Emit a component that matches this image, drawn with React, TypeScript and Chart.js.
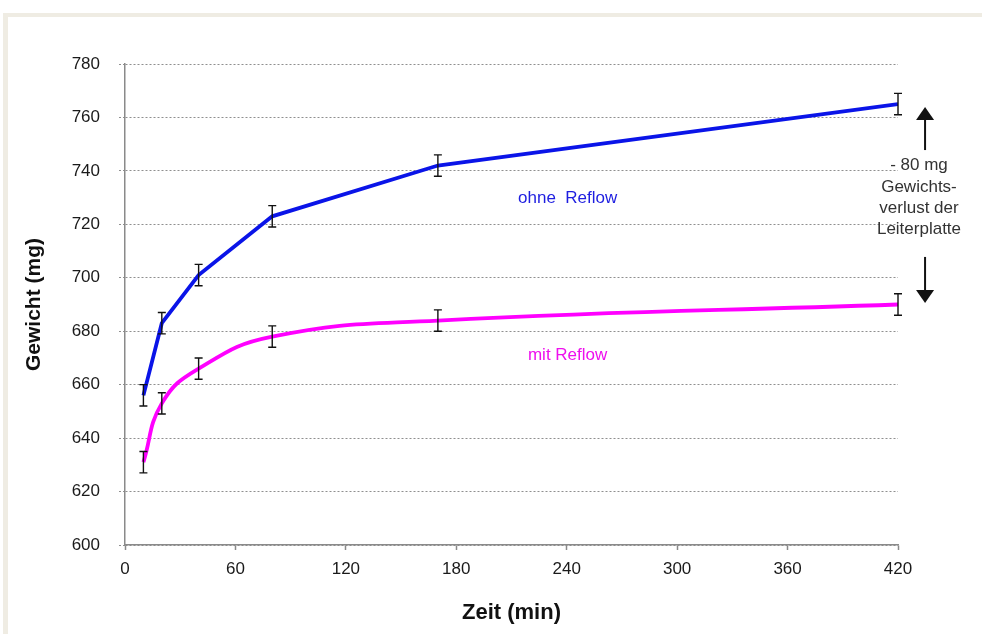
import React, { useEffect, useRef } from "react";
import { Chart, registerables } from "chart.js";

Chart.register(...registerables);

// ---- data ----
const times = [10, 20, 40, 80, 170, 420];
const ohneReflow = [656, 683, 701, 723, 742, 765];
const mitReflow = [631, 653, 666, 678, 684, 690];
const ohneErr = [4, 4, 4, 4, 4, 4];
const mitErr = [4, 4, 4, 4, 4, 4];
const xTickValues = [0, 60, 120, 180, 240, 300, 360, 420];
const yTickValues = [600, 620, 640, 660, 680, 700, 720, 740, 760, 780];
const noteLines = ["- 80 mg", "Gewichts-", "verlust der", "Leiterplatte"];
const seriesLabels = ["ohne  Reflow", "mit Reflow"];

const FONT = "'Liberation Sans', Arial, sans-serif";
const BLUE = "#0a14e8";
const MAGENTA = "#ff00ff";

const framePlugin = {
  id: "frame",
  beforeDraw(chart: any) {
    const { ctx, width, height } = chart;
    ctx.save();
    ctx.fillStyle = "#ffffff";
    ctx.fillRect(0, 0, width, height);
    ctx.fillStyle = "#efece3";
    ctx.fillRect(3, 13, width - 3, 4);
    ctx.fillRect(3, 13, 5, height - 13);
    ctx.restore();
  },
};

const errorBarPlugin = {
  id: "errorBars",
  afterDatasetsDraw(chart: any) {
    const { ctx } = chart;
    const yScale = chart.scales.y;
    const errs = [ohneErr, mitErr];
    ctx.save();
    ctx.strokeStyle = "#111111";
    ctx.lineWidth = 1.4;
    chart.data.datasets.forEach((ds: any, i: number) => {
      const meta = chart.getDatasetMeta(i);
      meta.data.forEach((pt: any, j: number) => {
        const v = ds.data[j].y;
        const e = errs[i][j];
        const x = pt.x;
        const yTop = yScale.getPixelForValue(v + e);
        const yBot = yScale.getPixelForValue(v - e);
        ctx.beginPath();
        ctx.moveTo(x, yTop);
        ctx.lineTo(x, yBot);
        ctx.moveTo(x - 4, yTop);
        ctx.lineTo(x + 4, yTop);
        ctx.moveTo(x - 4, yBot);
        ctx.lineTo(x + 4, yBot);
        ctx.stroke();
      });
    });
    ctx.restore();
  },
};

const annotationPlugin = {
  id: "notes",
  afterDraw(chart: any) {
    const { ctx } = chart;
    const xs = chart.scales.x;
    const ys = chart.scales.y;
    const px = (v: number) => xs.getPixelForValue(v);
    const py = (v: number) => ys.getPixelForValue(v);
    ctx.save();
    ctx.textAlign = "center";
    ctx.textBaseline = "middle";
    ctx.font = `17px ${FONT}`;
    ctx.fillStyle = "#1e1ee0";
    ctx.fillText(seriesLabels[0], px(240.5), py(729.7));
    ctx.fillStyle = "#ee10ee";
    ctx.fillText(seriesLabels[1], px(240.5), py(670.9));

    // note text
    ctx.fillStyle = "#333333";
    const noteY = [742.2, 734.0, 725.9, 718.3];
    noteLines.forEach((t, i) => ctx.fillText(t, px(431.4), py(noteY[i])));

    // arrows
    const ax = px(434.7);
    ctx.strokeStyle = "#111111";
    ctx.fillStyle = "#111111";
    ctx.lineWidth = 2;
    ctx.beginPath();
    ctx.moveTo(ax, py(747.8));
    ctx.lineTo(ax, py(759.5));
    ctx.stroke();
    ctx.beginPath();
    ctx.moveTo(ax, py(763.9));
    ctx.lineTo(ax - 9, py(759.0));
    ctx.lineTo(ax + 9, py(759.0));
    ctx.closePath();
    ctx.fill();
    ctx.beginPath();
    ctx.moveTo(ax, py(707.8));
    ctx.lineTo(ax, py(695.0));
    ctx.stroke();
    ctx.beginPath();
    ctx.moveTo(ax, py(690.6));
    ctx.lineTo(ax - 9, py(695.4));
    ctx.lineTo(ax + 9, py(695.4));
    ctx.closePath();
    ctx.fill();
    ctx.restore();
  },
};

export default function App() {
  const ref = useRef<HTMLCanvasElement | null>(null);

  useEffect(() => {
    if (!ref.current) return;
    const chart = new Chart(ref.current, {
      type: "line",
      data: {
        datasets: [
          {
            label: "ohne Reflow",
            data: times.map((t, i) => ({ x: t, y: ohneReflow[i] })),
            borderColor: BLUE,
            borderWidth: 3.8,
            pointRadius: 0,
            tension: 0,
            fill: false,
          },
          {
            label: "mit Reflow",
            data: times.map((t, i) => ({ x: t, y: mitReflow[i] })),
            borderColor: MAGENTA,
            borderWidth: 3.8,
            pointRadius: 0,
            tension: 0.45,
            fill: false,
          },
        ],
      },
      options: {
        animation: false,
        responsive: false,
        devicePixelRatio: 1,
        layout: { padding: { left: 0, top: 64, right: 84, bottom: 0 } },
        plugins: {
          legend: { display: false },
          tooltip: { enabled: false },
        },
        scales: {
          x: {
            type: "linear",
            min: 0,
            max: 420,
            afterBuildTicks: (s: any) => {
              s.ticks = xTickValues.map((v) => ({ value: v }));
            },
            afterFit: (s: any) => {
              s.height = 89;
            },
            ticks: {
              font: { family: FONT, size: 17 },
              color: "#1a1a1a",
              padding: 9,
              maxRotation: 0,
              autoSkip: false,
            },
            grid: {
              drawOnChartArea: false,
              drawTicks: true,
              tickLength: 5,
              tickColor: "#8a8a8a",
              tickWidth: 1.5,
            },
            border: { color: "#8a8a8a", width: 1.5 },
            title: {
              display: true,
              text: "Zeit (min)",
              font: { family: FONT, size: 22, weight: "bold" },
              color: "#111111",
              padding: { top: 0, bottom: 8 },
            },
          },
          y: {
            type: "linear",
            min: 600,
            max: 780,
            afterBuildTicks: (s: any) => {
              s.ticks = yTickValues.map((v) => ({ value: v }));
            },
            afterFit: (s: any) => {
              s.width = 125;
            },
            ticks: {
              font: { family: FONT, size: 17 },
              color: "#1a1a1a",
              padding: 19,
            },
            grid: {
              color: "#8f8f8f",
              lineWidth: 1,
              tickLength: 6,
              tickColor: "#8f8f8f",
              tickBorderDash: [2, 2],
            },
            border: { color: "#8a8a8a", width: 1.5, dash: [2, 2] },
            title: {
              display: true,
              text: "Gewicht (mg)",
              font: { family: FONT, size: 21, weight: "bold" },
              color: "#111111",
              padding: { top: 22, bottom: 0 },
            },
          },
        },
      } as any,
      plugins: [framePlugin, errorBarPlugin, annotationPlugin],
    });
    return () => chart.destroy();
  }, []);

  return (
    <div style={{ position: "absolute", left: 0, top: 0, width: 982, height: 634 }}>
      <canvas ref={ref} width={982} height={634} style={{ display: "block" }} />
    </div>
  );
}
